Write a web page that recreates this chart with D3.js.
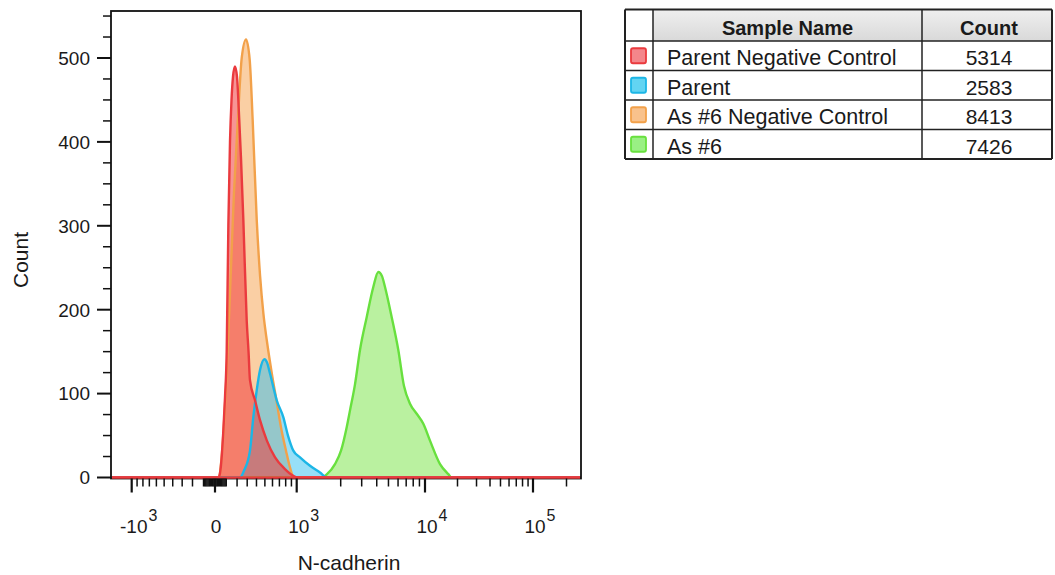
<!DOCTYPE html>
<html><head><meta charset="utf-8">
<script src="https://cdn.jsdelivr.net/npm/d3@7"></script>
<style>
body{margin:0;background:#fff;}
text{font-family:"Liberation Sans",Arial,Helvetica,sans-serif;fill:#1a1a1a;}
</style>
</head><body>
<svg id="chart" width="1055" height="575"></svg>
<script>
// ---------- data ----------
const sampleNames = ["Parent Negative Control", "Parent", "As #6 Negative Control", "As #6"];
const sampleCounts = [5314, 2583, 8413, 7426];
const lineColors = ["#ea3a3e", "#1cb6e6", "#f2a14a", "#68e03e"];
const fillColors = ["#f03c3c", "#30c0f0", "#f5a04a", "#8ce860"];
const swatchFills = ["#f4868b", "#62d4f2", "#f9c28c", "#9af084"];

// histogram points: fluorescence value (N-cadherin) and count
const parentNegX = [-1500, 0, 30, 44, 59, 74, 89, 104, 119, 134, 148, 162, 180, 199, 221, 238, 261, 295, 314, 329, 384, 442, 525, 636, 788, 935, 1010, 270000];
const parentNegY = [0, 0, 0, 5, 24, 56, 96, 150, 300, 400, 450, 478, 490, 478, 426, 380, 307, 187, 150, 116, 92, 68, 44, 24, 10, 2, 0, 0];

const parentX = [-1500, 228, 267, 329, 365, 403, 441, 495, 527, 566, 660, 761, 839, 935, 1056, 1241, 1453, 1621, 270000];
const parentY = [0, 0, 8, 32, 72, 104, 128, 141, 137, 124, 92, 72, 50, 32, 24, 14, 6, 0, 0];

const asNegX = [-1500, 35, 62, 98, 134, 171, 209, 245, 288, 326, 358, 403, 442, 482, 525, 589, 660, 724, 805, 874, 947, 270000];
const asNegY = [0, 0, 30, 110, 220, 340, 430, 500, 522, 498, 426, 307, 240, 195, 163, 125, 90, 60, 32, 12, 0, 0];

const as6X = [-1500, 1499, 1621, 1833, 2012, 2248, 2396, 2638, 2904, 3302, 3746, 4121, 4422, 4682, 5318, 6028, 6716, 7525, 8547, 9687, 11125, 13777, 16440, 17677, 270000];
const as6Y = [0, 0, 4, 16, 32, 60, 80, 111, 152, 191, 227, 245, 240, 227, 191, 152, 109, 88, 76, 64, 44, 16, 4, 0, 0];

const yMajorTicks = [0, 100, 200, 300, 400, 500];
const yMinorTicks = [25, 50, 75, 125, 150, 175, 225, 250, 275, 325, 350, 375, 425, 450, 475, 525, 550];
const xMajorTicks = [-1000, 0, 1000, 10000, 100000];
const xTickBase = ["-10", "0", "10", "10", "10"];
const xTickExp = ["3", "", "3", "4", "5"];
const xMinorTicks = [];
for (let k = 1; k <= 9; k++) { xMinorTicks.push(-100 * k, 100 * k, -10 * k, 10 * k); }
for (let k = 2; k <= 9; k++) { xMinorTicks.push(1000 * k, 10000 * k); }
xMinorTicks.push(200000);

// ---------- scales ----------
const svg = d3.select("#chart");
const T = v => Math.asinh(v / 500);
const xKnots = [-1500, -1000, 0, 1000, 2000, 10000, 100000, 270000];
const xLin = d3.scaleLinear().domain(xKnots.map(T)).range([111, 131.7, 215, 296.7, 340.7, 425, 533, 581]);
const X = v => xLin(T(v));
const Y = d3.scaleLinear().domain([0, 556]).range([477.5, 11]);

const plotL = 111, plotR = 581, plotT = 11, plotB = 478.5;

svg.append("defs").append("clipPath").attr("id", "clip")
  .append("rect").attr("x", plotL).attr("y", plotT).attr("width", plotR - plotL).attr("height", plotB - plotT + 2);

// ---------- series ----------
const series = [
  { xs: as6X, ys: as6Y, i: 3, op: 0.6 },
  { xs: asNegX, ys: asNegY, i: 2, op: 0.5 },
  { xs: parentX, ys: parentY, i: 1, op: 0.5 },
  { xs: parentNegX, ys: parentNegY, i: 0, op: 0.55 }
];
const gData = svg.append("g").attr("clip-path", "url(#clip)");
const area = d3.area().x(d => X(d[0])).y0(Y(0)).y1(d => Y(d[1])).curve(d3.curveMonotoneX);
const line = d3.line().x(d => X(d[0])).y(d => Y(d[1])).curve(d3.curveMonotoneX);
series.forEach(s => {
  const pts = s.xs.map((v, k) => [v, s.ys[k]]);
  gData.append("path").attr("d", area(pts)).attr("fill", fillColors[s.i]).attr("fill-opacity", s.op);
});
series.forEach(s => {
  const pts = s.xs.map((v, k) => [v, s.ys[k]]);
  gData.append("path").attr("d", line(pts)).attr("fill", "none")
    .attr("stroke", lineColors[s.i]).attr("stroke-width", 2.4).attr("stroke-linejoin", "round");
});

// frame
svg.append("rect").attr("x", plotL).attr("y", plotT).attr("width", plotR - plotL).attr("height", plotB - plotT)
  .attr("fill", "none").attr("stroke", "#111").attr("stroke-width", 1.8);
// redraw the red baseline over the frame bottom
svg.append("line").attr("x1", plotL + 1).attr("x2", plotR - 1).attr("y1", Y(0)).attr("y2", Y(0))
  .attr("stroke", lineColors[0]).attr("stroke-width", 2.4);

// ---------- y axis ----------
const gy = svg.append("g");
yMajorTicks.forEach((t, k) => {
  gy.append("line").attr("x1", 97).attr("x2", plotL).attr("y1", Y(t)).attr("y2", Y(t)).attr("stroke", "#111").attr("stroke-width", 2);
  gy.append("text").attr("x", 90).attr("y", Y(t)).attr("dy", "0.36em").attr("text-anchor", "end")
    .style("font-size", "19px").text(t);
});
yMinorTicks.forEach(t => {
  gy.append("line").attr("x1", 103).attr("x2", plotL).attr("y1", Y(t)).attr("y2", Y(t)).attr("stroke", "#111").attr("stroke-width", 1.5);
});
svg.append("text").attr("transform", "translate(28,260) rotate(-90)").attr("text-anchor", "middle")
  .style("font-size", "21px").text("Count");

// ---------- x axis ----------
const gx = svg.append("g");
xMinorTicks.forEach(t => {
  gx.append("line").attr("x1", X(t)).attr("x2", X(t)).attr("y1", plotB).attr("y2", plotB + 8)
    .attr("stroke", "#111").attr("stroke-width", 1.5);
});
xMajorTicks.forEach((t, k) => {
  gx.append("line").attr("x1", X(t)).attr("x2", X(t)).attr("y1", plotB).attr("y2", plotB + 14)
    .attr("stroke", "#111").attr("stroke-width", 2.2);
  const tx = gx.append("text").attr("x", X(t) + (xTickExp[k] ? 7 : 1)).attr("y", 533)
    .attr("text-anchor", "middle").style("font-size", "19px");
  tx.append("tspan").text(xTickBase[k]);
  if (xTickExp[k]) tx.append("tspan").attr("dx", 1).attr("dy", -12).style("font-size", "16px").text(xTickExp[k]);
});
svg.append("text").attr("x", 349).attr("y", 570).attr("text-anchor", "middle")
  .style("font-size", "21px").text("N-cadherin");

// ---------- legend table ----------
const cols = [625, 653, 922, 1052];
const rows = [9.5, 41, 70.5, 100, 129.5, 159];
const gl = svg.append("g");
const grad = svg.select("defs").append("linearGradient").attr("id", "hdr").attr("x1", 0).attr("x2", 0).attr("y1", 0).attr("y2", 1);
grad.append("stop").attr("offset", "0%").attr("stop-color", "#efefef");
grad.append("stop").attr("offset", "100%").attr("stop-color", "#d9d9d9");
gl.append("rect").attr("x", cols[1]).attr("y", rows[0]).attr("width", cols[3] - cols[1]).attr("height", rows[1] - rows[0])
  .attr("fill", "url(#hdr)");
rows.forEach((r, k) => {
  gl.append("line").attr("x1", cols[0]).attr("x2", cols[3]).attr("y1", r).attr("y2", r)
    .attr("stroke", "#222").attr("stroke-width", (k === 0 || k === rows.length - 1) ? 2 : 1.5);
});
cols.forEach((c, k) => {
  gl.append("line").attr("x1", c).attr("x2", c).attr("y1", rows[0]).attr("y2", rows[rows.length - 1])
    .attr("stroke", "#222").attr("stroke-width", (k === 0 || k === cols.length - 1) ? 2 : 1.5);
});
gl.append("text").attr("x", (cols[1] + cols[2]) / 2).attr("y", rows[1] - 6).attr("text-anchor", "middle")
  .style("font-size", "20px").style("font-weight", "bold").text("Sample Name");
gl.append("text").attr("x", (cols[2] + cols[3]) / 2 + 2).attr("y", rows[1] - 6).attr("text-anchor", "middle")
  .style("font-size", "20px").style("font-weight", "bold").text("Count");
sampleNames.forEach((name, k) => {
  const top = rows[k + 1], bot = rows[k + 2], mid = (top + bot) / 2;
  gl.append("rect").attr("x", 631).attr("y", mid - 7.5).attr("width", 15).attr("height", 15).attr("rx", 2)
    .attr("fill", swatchFills[k]).attr("stroke", lineColors[k]).attr("stroke-width", 1.8);
  gl.append("text").attr("x", 667).attr("y", bot - 5.5).style("font-size", "21.5px").text(name);
  gl.append("text").attr("x", (cols[2] + cols[3]) / 2 + 2).attr("y", bot - 5.5).attr("text-anchor", "middle")
    .style("font-size", "21px").text(sampleCounts[k]);
});
</script>
</body></html>
